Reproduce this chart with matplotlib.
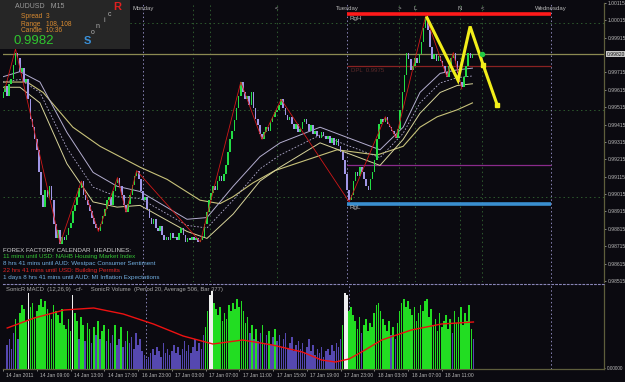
import matplotlib
matplotlib.use("Agg")
import matplotlib.pyplot as plt
import matplotlib.patches as patches
import matplotlib.transforms as mtransforms
import numpy as np

plt.rcParams['font.family'] = ['Liberation Sans', 'DejaVu Sans']

# AUDUSD M15 closes, one per bar (bar 0 ~ 14 Jan 04:30)
closes = [
    0.9960, 0.9964, 0.9958, 0.9965, 0.9968, 0.9976, 0.9983, 0.9980, 0.9972, 0.9974,
    0.9966, 0.9968, 0.9956, 0.9945, 0.9940, 0.9933, 0.9927, 0.9914, 0.9901, 0.9894,
    0.9904, 0.9900, 0.9906, 0.9898, 0.9884, 0.9876, 0.9881, 0.9873, 0.9877, 0.9875,
    0.9878, 0.9882, 0.9885, 0.9892, 0.9895, 0.9900, 0.9905, 0.9909, 0.9901, 0.9898,
    0.9895, 0.9892, 0.9888, 0.9884, 0.9882, 0.9880, 0.9884, 0.9889, 0.9893, 0.9898,
    0.9900, 0.9895, 0.9903, 0.9908, 0.9911, 0.9906, 0.9901, 0.9895, 0.9891, 0.9896,
    0.9901, 0.9907, 0.9912, 0.9915, 0.9910, 0.9903, 0.9898, 0.9900, 0.9893, 0.9888,
    0.9884, 0.9887, 0.9882, 0.9880, 0.9883, 0.9878, 0.9875, 0.9877, 0.9875, 0.9879,
    0.9876, 0.9877, 0.9875, 0.9879, 0.9882, 0.9878, 0.9874, 0.9876, 0.9875, 0.9877,
    0.9875, 0.9876, 0.9874, 0.9875, 0.9877, 0.9884, 0.9891, 0.9898, 0.9902, 0.9906,
    0.9904, 0.9909, 0.9912, 0.9909, 0.9913, 0.9918, 0.9926, 0.9933, 0.9938, 0.9944,
    0.9951, 0.9958, 0.9966, 0.9960, 0.9956, 0.9958, 0.9953, 0.9960, 0.9951, 0.9945,
    0.9941, 0.9936, 0.9933, 0.9937, 0.9940, 0.9938, 0.9943, 0.9946, 0.9949, 0.9950,
    0.9953, 0.9956, 0.9951, 0.9947, 0.9944, 0.9946, 0.9942, 0.9939, 0.9942, 0.9937,
    0.9939, 0.9943, 0.9945, 0.9942, 0.9938, 0.9941, 0.9936, 0.9938, 0.9935, 0.9934,
    0.9937, 0.9935, 0.9933, 0.9935, 0.9931, 0.9934, 0.9930, 0.9933, 0.9929, 0.9926,
    0.9921, 0.9913, 0.9904, 0.9898, 0.9901, 0.9909, 0.9914, 0.9912, 0.9917, 0.9914,
    0.9910, 0.9906, 0.9904, 0.9910, 0.9914, 0.9921, 0.9933, 0.9942, 0.9945, 0.9943,
    0.9946, 0.9942, 0.9940, 0.9938, 0.9936, 0.9934, 0.9939, 0.9950, 0.9960, 0.9970,
    0.9983, 0.9979, 0.9973, 0.9975, 0.9980, 0.9977, 0.9982, 0.9989, 0.9997, 1.0003,
    0.9996, 0.9986, 0.9979, 0.9982, 0.9978, 0.9981, 0.9978, 0.9975, 0.9972, 0.9969,
    0.9975, 0.9980, 0.9983, 0.9978, 0.9971, 0.9966, 0.9963, 0.9969, 0.9975, 0.9983,
    0.9980, 0.9982,
]
first_open = 0.9957

volumes = [
    24, 30, 20, 36, 50, 30, 56, 64, 60, 48, 76, 62, 66, 52, 58, 64,
    70, 62, 68, 60, 56, 50, 64, 58, 54, 46, 60, 44, 40, 50, 38, 74,
    56, 48, 30, 52, 44, 28, 46, 40, 26, 42, 34, 48, 30, 38, 44, 28,
    40, 26, 34, 44, 24, 30, 42, 22, 28, 38, 26, 32, 20, 36, 24, 30,
    18, 14, 10, 12, 16, 20, 14, 22, 18, 12, 26, 16, 20, 14, 18, 24,
    16, 22, 14, 20, 28, 18, 24, 16, 22, 30, 18, 26, 20, 34, 42, 58,
    74, 78, 66, 60, 54, 62, 48, 56, 50, 64, 58, 66, 60, 70, 62, 68,
    58, 46, 52, 36, 44, 30, 40, 28, 36, 44, 26, 34, 38, 24, 32, 40,
    28, 34, 22, 30, 36, 20, 26, 32, 18, 24, 28, 20, 26, 16, 22, 30,
    18, 24, 14, 20, 16, 22, 12, 18, 20, 14, 24, 18, 26, 22, 30, 44,
    76, 74, 58, 62, 54, 48, 40, 52, 36, 44, 50, 38, 46, 42, 56, 64,
    66, 58, 50, 44, 38, 48, 34, 42, 30, 46, 58, 66, 70, 62, 68, 60,
    54, 62, 48, 56, 64, 58, 68, 70, 52, 60, 44, 50, 38, 56, 42, 48,
    54, 40, 50, 36, 58, 46, 52, 62, 44, 56, 48, 64, 40, 30,
]

# zigzag swing points (bar, price)
zz_bars = [1, 6, 27, 37, 45, 54, 58, 63, 93, 112, 122, 131, 163, 180, 185, 199, 209, 212, 216]
zz_prices = [0.9962, 0.9985, 0.9873, 0.9909, 0.9880, 0.9911, 0.9891, 0.9915, 0.9874, 0.9966,
             0.9933, 0.9956, 0.9897, 0.9946, 0.9934, 1.0004, 0.9969, 0.9983, 0.9962]

# projected pattern (yellow)
proj_bars = [199.6, 214.2, 219.9, 226.0, 232.6]
proj_prices = [1.0003, 0.9967, 0.9998, 0.9976, 0.9953]

# moving averages, sampled (bar, price)
slow_bars = [0, 11.4, 19, 33, 45.8, 64.6, 77.3, 92.8, 102.2, 108.4, 117.8, 128, 157.3, 176.1, 188.4, 196.3, 204.4, 213.8, 221]
slow_ma = [0.9966, 0.9966, 0.9960, 0.9940, 0.9929, 0.9917, 0.9910, 0.9898, 0.9896, 0.9900, 0.9908,
           0.9915, 0.9927, 0.9924, 0.9929, 0.9940, 0.9946, 0.9950, 0.9954]
band_bars = [0, 8.1, 17.5, 30.2, 42.5, 53.8, 64.6, 86.7, 96.1, 108.4, 121, 130.5, 149.3, 166.7, 177.5, 188.4, 196.3, 205.8, 213.8, 221]
band_hi = [0.9969, 0.9972, 0.9966, 0.9937, 0.9914, 0.9906, 0.9903, 0.9887, 0.9888, 0.9906, 0.9923,
           0.9931, 0.9940, 0.9932, 0.9927, 0.9940, 0.9960, 0.9971, 0.9973, 0.9974]
band_lo = [0.9963, 0.9963, 0.9954, 0.9919, 0.9897, 0.9894, 0.9895, 0.9880, 0.9876, 0.9890, 0.9909,
           0.9917, 0.9931, 0.9923, 0.9918, 0.9933, 0.9948, 0.9960, 0.9964, 0.9965]

# MACD line in volume panel (bar, value)
macd_bars = [0, 12.8, 27, 41, 55, 69.3, 83.4, 97.5, 111.6, 125.8, 139.9, 149, 155.5, 162, 168, 177.5, 191.6, 205.8, 221]
macd_vals = [41, 51, 59, 61, 55, 45, 33, 25, 29, 24, 17, 9, 7, 10, 17, 29, 39, 45, 47]

tick_bars = [-2, 14, 30, 46, 62, 78, 94, 110, 126, 142, 158, 174, 190, 206]
tick_labels = ['14 Jan 2011', '14 Jan 09:00', '14 Jan 13:00', '14 Jan 17:00', '16 Jan 23:00',
               '17 Jan 03:00', '17 Jan 07:00', '17 Jan 11:00', '17 Jan 15:00', '17 Jan 19:00',
               '17 Jan 23:00', '18 Jan 03:00', '18 Jan 07:00', '18 Jan 11:00']

day_bars = [66, 162, 258]
day_names = ['Monday', 'Tuesday', 'Wednesday']
marker_bars = [129, 186.5, 194, 215, 225.5]
marker_names = ['<', '>', 'L', 'N', '<']

current_price = 0.9982
rg_high = 1.0005
rg_low = 0.9896
dpl_level = 0.9975
mid_level = 0.9918

BG = '#0b0a10'
UP = '#22dd44'
DOWN = '#a096e6'
TXT = '#b8b8b8'


def px(x, y):
    return x / 625, 1 - y / 382


fig = plt.figure(figsize=(6.25, 3.82), dpi=100, facecolor=BG)
ax = fig.add_axes([3 / 625, 100 / 382, 601 / 625, 279 / 382], facecolor=BG)
axv = fig.add_axes([3 / 625, 13 / 382, 601 / 625, 85 / 382], facecolor=BG)

xlim = (0.12, 282.9)

# ---- price panel
bars = np.arange(len(closes))
c = np.array(closes)
o = np.concatenate([[first_open], c[:-1]])
body = c - o
body = np.where(np.abs(body) < 0.00003, 0.00003, body)
colors = [UP if cl >= op else DOWN for op, cl in zip(o, c)]
ax.bar(bars, body, bottom=o, width=0.75, color=colors, linewidth=0, zorder=4)

# grid
for lvl in [1.0000, 0.9950, 0.9900]:
    ax.axhline(lvl, color='#2e5a2e', lw=0.7, ls=(0, (1.5, 3)), zorder=1)
for b in [89.5, 97.5] + marker_bars:
    ax.axvline(b, color='#2e5a2e', lw=0.7, ls=(0, (1.5, 3)), zorder=1)
for b in day_bars:
    ax.axvline(b, color='#8a86b8', lw=0.7, ls=(0, (1.5, 2.5)), zorder=1)
    axv.axvline(b, color='#8a86b8', lw=0.7, ls=(0, (1.5, 2.5)), zorder=1)

# moving averages
ax.plot(slow_bars, slow_ma, color='#c8c27a', lw=0.8, zorder=3)
ax.plot(band_bars, band_hi, color='#b4aed0', lw=0.7, zorder=3)
ax.plot(band_bars, band_lo, color='#d8d49a', lw=0.7, zorder=3)
band_mid = [(h + l) / 2 for h, l in zip(band_hi, band_lo)]
ax.plot(band_bars, band_mid, color='#b4aed0', lw=0.6, ls=(0, (2, 2)), zorder=3)

# zigzag
ax.plot(zz_bars, zz_prices, color='#d01818', lw=0.6, zorder=5)

# levels
ax.axhline(current_price, color='#8c8a52', lw=0.9, zorder=2)
ax.hlines(rg_high, day_bars[1], day_bars[2], color='#ff1a1a', lw=2.6, zorder=6)
ax.hlines(rg_low, day_bars[1], day_bars[2], color='#3a8fd0', lw=2.6, zorder=6)
ax.hlines(dpl_level, day_bars[1], day_bars[2], color='#8a2222', lw=0.9, zorder=2)
ax.hlines(mid_level, day_bars[1], day_bars[2], color='#8a2a8a', lw=0.9, zorder=2)
ax.text(day_bars[1] + 1, rg_high - 0.0001, 'RgH', color=TXT, fontsize=4.5, va='top', zorder=7)
ax.text(day_bars[1] + 1, rg_low - 0.0001, 'RgL', color=TXT, fontsize=4.5, va='top', zorder=7)
ax.text(day_bars[1] + 2, dpl_level - 0.0001, 'DPL  0.9975', color='#5a2a2a', fontsize=4.3, va='top', zorder=7)

# projection
ax.plot(proj_bars, proj_prices, color='#f2ee1a', lw=2.2, zorder=8, solid_joinstyle='miter')
ax.plot(proj_bars[3:], proj_prices[3:], 's', color='#f2ee1a', ms=3, zorder=9)
ax.plot([225.5], [current_price], 'o', color='#22cc44', ms=3, zorder=9)

ax.set_xlim(*xlim)
ax.set_ylim(0.98509, 1.00115)
price_ticks = [v for v in np.round(np.arange(0.98515, 1.00116, 0.001), 5) if abs(v - current_price) > 0.0005]
ax.yaxis.tick_right()
ax.set_yticks(price_ticks)
ax.set_yticklabels([f'{v:.5f}' for v in price_ticks])
ax.tick_params(axis='y', colors=TXT, labelsize=3.6, length=1.5, pad=1, width=0.5)
ax.set_xticks([])
for s in ['left', 'top', 'bottom']:
    ax.spines[s].set_visible(False)
ax.spines['right'].set_color('#5e5e3c')
ax.spines['right'].set_linewidth(0.9)

ax.text(1.004, (current_price - 0.98509) / (1.00115 - 0.98509), '0.99820', transform=ax.transAxes,
        fontsize=3.6, color='#101010', va='center', ha='left',
        bbox=dict(boxstyle='square,pad=0.15', fc='#c8c8c8', ec='none'), zorder=10, clip_on=False)

# day / marker labels
for b, n in zip(day_bars, day_names):
    ax.text(b, 1.00085, n, color=TXT, fontsize=4.3, ha='center', va='center', zorder=7)
for b, n in zip(marker_bars, marker_names):
    ax.text(b, 1.00085, n, color=TXT, fontsize=4.3, ha='center', va='center', zorder=7)

# calendar headlines
cal = [
    ('FOREX FACTORY CALENDAR  HEADLINES:', '#d0d0d0'),
    ('11 mins until USD: NAHB Housing Market Index', '#35c435'),
    ('8 hrs 41 mins until AUD: Westpac Consumer Sentiment', '#70aee0'),
    ('22 hrs 41 mins until USD: Building Permits', '#e02424'),
    ('1 days 8 hrs 41 mins until AUD: MI Inflation Expectations', '#70aee0'),
]
for i, (t, col) in enumerate(cal):
    x, y = px(3, 250 + i * 6.8)
    fig.text(x, y, t, color=col, fontsize=4.5, va='center', ha='left', zorder=10)

# ---- volume panel
vol_colors = ['#f0f0f0' if v >= 72 else '#22dd22' if v >= 38 else '#5548b0' for v in volumes]
axv.bar(np.arange(len(volumes)), volumes, width=0.75, color=vol_colors, linewidth=0, zorder=3)
axv.plot(macd_bars, macd_vals, color='#ee1111', lw=1.0, zorder=4)
axv.set_xlim(*xlim)
axv.set_ylim(0, 85)
axv.yaxis.tick_right()
axv.set_yticks([1.5])
axv.set_yticklabels(['0.00000'])
axv.set_xticks(tick_bars)
axv.set_xticklabels(tick_labels, ha='left')
axv.tick_params(axis='both', colors=TXT, labelsize=3.6, length=1.5, width=0.5, pad=1.5)
axv.tick_params(axis='y', labelsize=3.4, pad=0.8, length=1)
off = mtransforms.ScaledTranslation(3.5 / 100, 0, fig.dpi_scale_trans)
for lab in axv.get_xticklabels():
    lab.set_transform(lab.get_transform() + off)
axv.spines['left'].set_visible(False)
axv.spines['top'].set_color('#8a86b8')
axv.spines['top'].set_linestyle((0, (1.5, 2)))
axv.spines['top'].set_linewidth(0.8)
axv.spines['right'].set_color('#5e5e3c')
axv.spines['right'].set_linewidth(0.9)
axv.spines['bottom'].set_color('#5e5e3c')
axv.spines['bottom'].set_linewidth(0.9)
axv.text(0.005, 0.93, 'SonicR MACD  (12,26,9)  -cf-     SonicR Volume  (Period 20, Average 506, Bar 377)',
         transform=axv.transAxes, color='#a8a8a8', fontsize=4.2, va='center', zorder=6)

# ---- info box
box = patches.Rectangle(px(0, 49), 130 / 625, 49 / 382, transform=fig.transFigure,
                        facecolor='#262626', edgecolor='none', zorder=9)
fig.add_artist(box)
fig.text(*px(15, 7), 'AUDUSD   M15', color='#9a9a9a', fontsize=5, va='center', zorder=10)
fig.text(*px(21, 16), 'Spread  3', color='#d88a30', fontsize=4.8, va='center', zorder=10)
fig.text(*px(21, 24), 'Range   108, 108', color='#d88a30', fontsize=4.8, va='center', zorder=10)
fig.text(*px(21, 31), 'Candle  10:36', color='#d88a30', fontsize=4.8, va='center', zorder=10)
fig.text(*px(14, 41), '0.9982', color='#2fc62f', fontsize=9.5, va='center', zorder=10)
fig.text(*px(87, 41), 'S', color='#3a90d8', fontsize=8, ha='center', va='center', weight='bold', zorder=10)
for (x, y), ch in zip([(93, 33), (98, 27), (104, 21), (110, 14)], 'onic'):
    fig.text(*px(x, y), ch, color='#b0b0b0', fontsize=5, ha='center', va='center', zorder=10)
fig.text(*px(117, 7), 'R', color='#e02020', fontsize=8, ha='center', va='center', weight='bold', zorder=10)

fig.savefig('out.png', dpi=100, facecolor=BG)
